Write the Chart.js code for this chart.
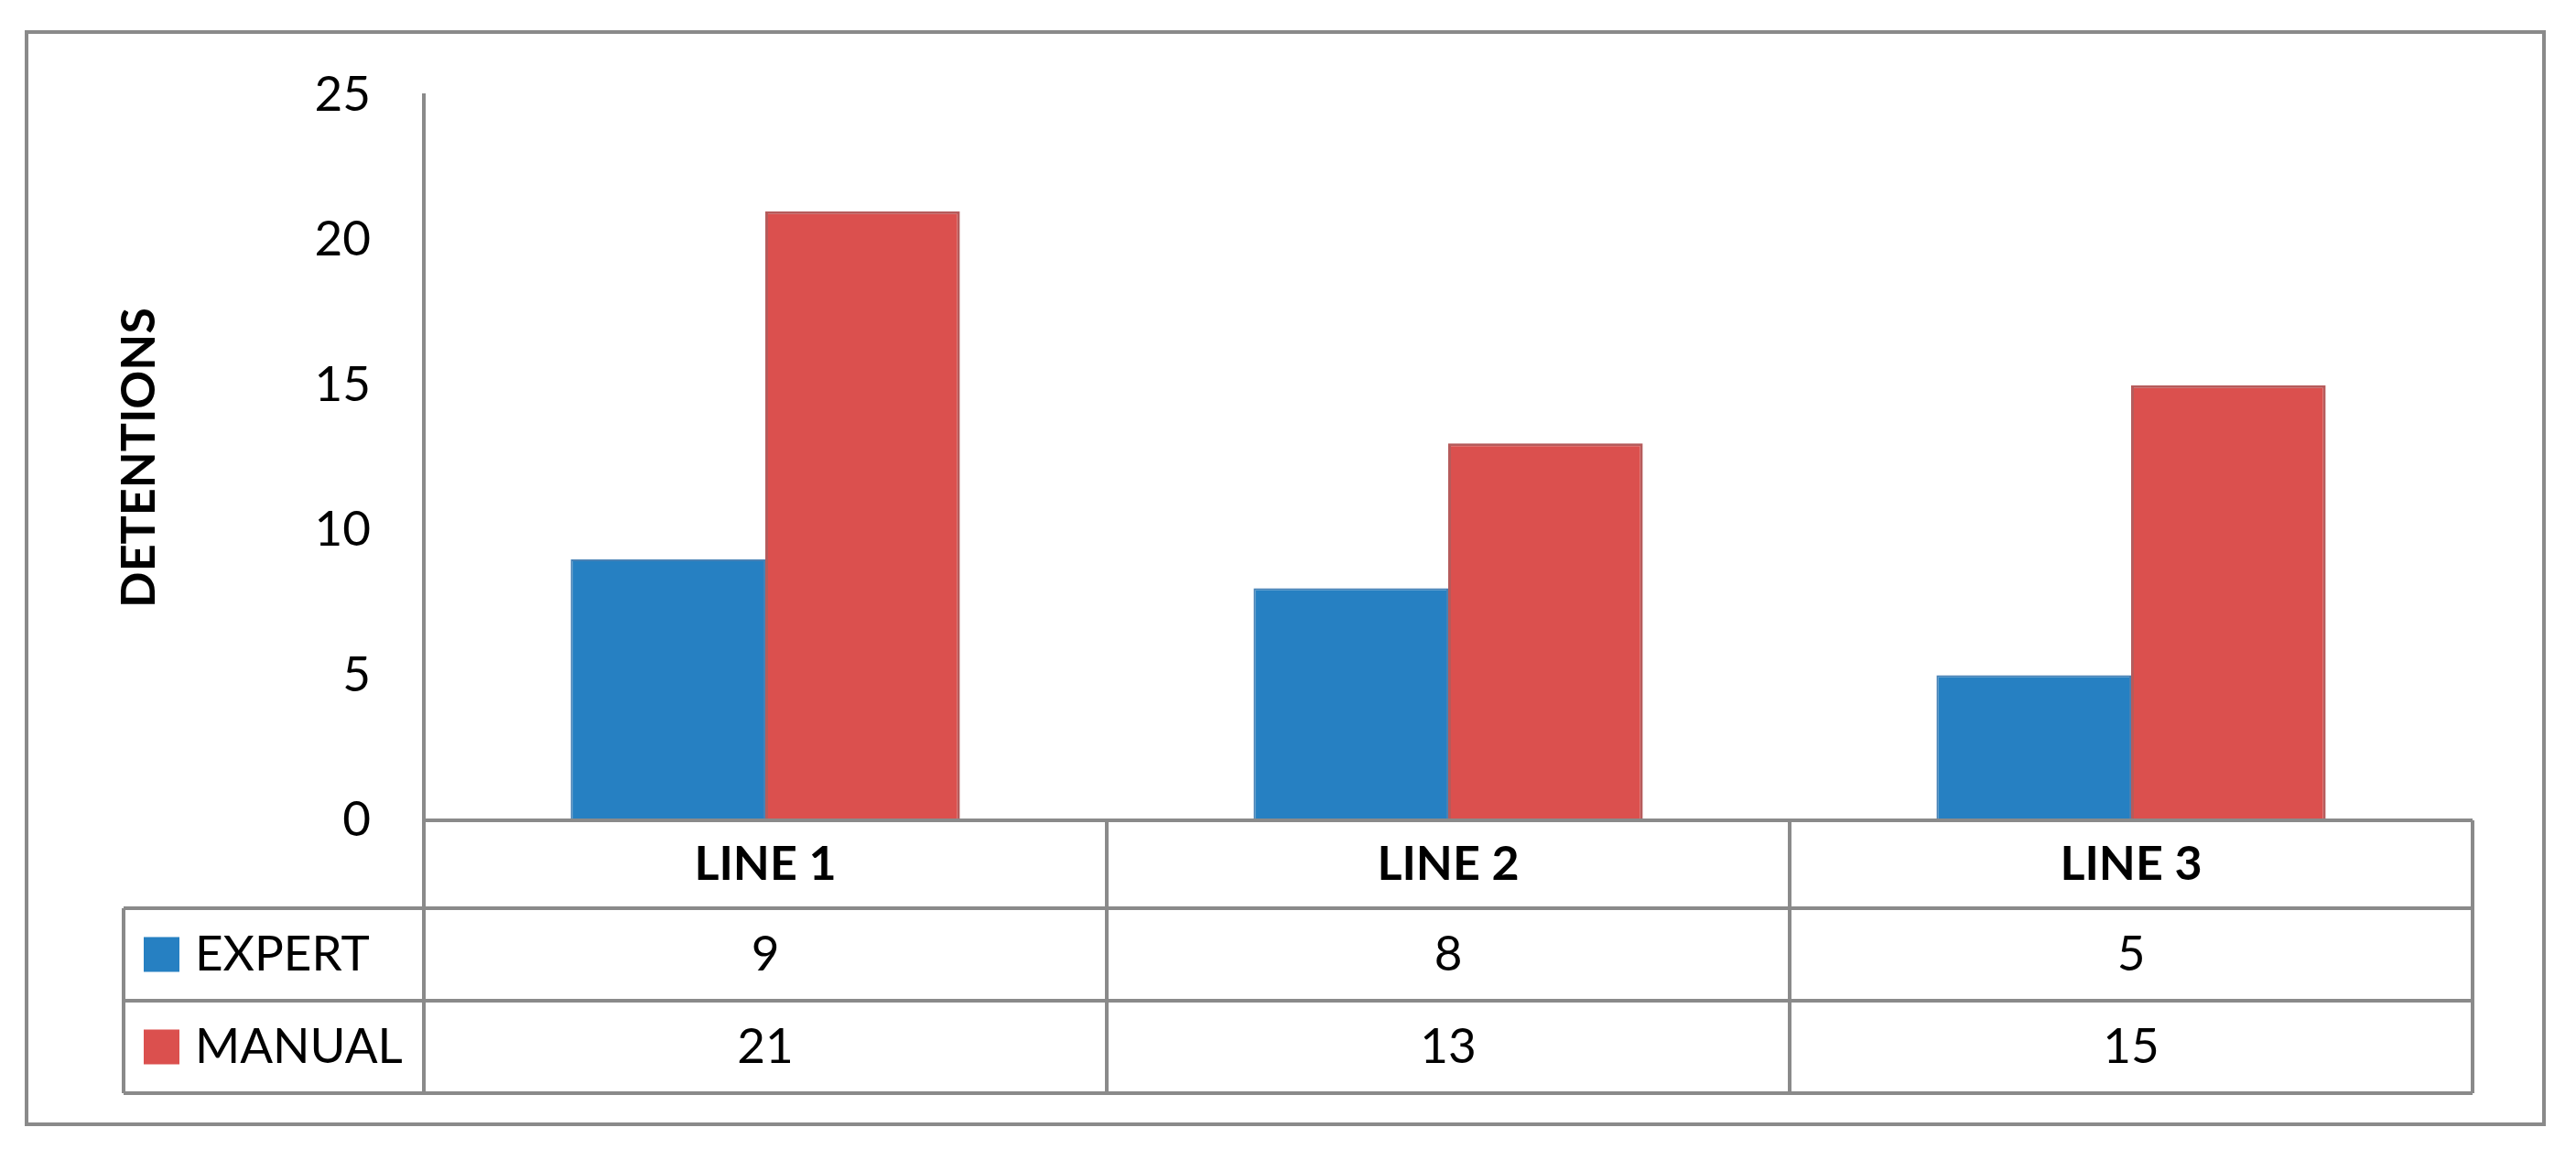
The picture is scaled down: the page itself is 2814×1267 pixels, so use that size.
<!DOCTYPE html>
<html lang="en">
<head>
    <meta charset="UTF-8">
    <title>Detentions by Line</title>
    <script src="https://cdn.jsdelivr.net/npm/chart.js"></script>
    <style>
        body {
            margin: 0;
            background: #ffffff;
            font-family: 'Lato', sans-serif;
        }

        /* Chart wrapper */
        .chart-wrap {
            position: relative;
            width: 2814px;
            height: 1267px;
        }

        /* Grey frame round the whole figure */
        .frame {
            position: absolute;
            left: 27px;
            top: 33px;
            width: 2754px;
            height: 1197px;
            box-sizing: border-box;
            border: 4px solid #8a8a8a;
            pointer-events: none;
        }
    </style>
</head>
<body>

    <div class="chart-wrap">
        <canvas id="barChart"></canvas>
        <div class="frame"></div>
    </div>

    <script>
// Chart data
const categories = ["LINE 1", "LINE 2", "LINE 3"];
const seriesNames = ["EXPERT", "MANUAL"];
const expertValues = [9, 8, 5];
const manualValues = [21, 13, 15];
const yTickStep = 5;
const yMax = 25;

const colors = ["#2680c2", "#db504e"];
const borders = ["#4781b5", "#b65b5b"];
const lineColor = "#8a8a8a";

// Data table under the plot (header row + one row per series)
const dataTable = {
    id: "dataTable",
    afterDatasetsDraw(chart) {
        const ctx = chart.ctx;
        const x = chart.scales.x;
        const area = chart.chartArea;
        const tableLeft = 135;
        const rowH = [96, 101, 101];
        const top = area.bottom;
        const rows = [top, top + rowH[0], top + rowH[0] + rowH[1], top + rowH[0] + rowH[1] + rowH[2]];
        const half = (x.getPixelForValue(1) - x.getPixelForValue(0)) / 2;
        const bounds = categories.map((c, i) => x.getPixelForValue(i) - half);
        bounds.push(x.getPixelForValue(categories.length - 1) + half);

        ctx.save();
        ctx.strokeStyle = lineColor;
        ctx.lineWidth = 4;
        ctx.beginPath();
        // horizontal lines
        ctx.moveTo(area.left, rows[0]); ctx.lineTo(area.right, rows[0]);
        for (let r = 1; r < rows.length; r++) {
            ctx.moveTo(tableLeft, rows[r]); ctx.lineTo(area.right, rows[r]);
        }
        // vertical lines
        ctx.moveTo(tableLeft, rows[1]); ctx.lineTo(tableLeft, rows[3]);
        bounds.forEach(b => { ctx.moveTo(b, rows[0]); ctx.lineTo(b, rows[3]); });
        ctx.stroke();

        // header labels
        ctx.fillStyle = "#000";
        ctx.textAlign = "center";
        ctx.textBaseline = "middle";
        ctx.font = "bold 52px Lato";
        categories.forEach((c, i) => ctx.fillText(c, x.getPixelForValue(i), (rows[0] + rows[1]) / 2));

        // series rows
        chart.data.datasets.forEach((ds, s) => {
            const cy = (rows[s + 1] + rows[s + 2]) / 2;
            ctx.fillStyle = ds.backgroundColor;
            ctx.fillRect(157, cy - 19, 39, 38);
            ctx.fillStyle = "#000";
            ctx.font = "53px Lato";
            ctx.textAlign = "left";
            ctx.fillText(ds.label, 213, cy);
            ctx.textAlign = "center";
            ds.data.forEach((v, i) => ctx.fillText(String(v), x.getPixelForValue(i), cy));
        });
        ctx.restore();
    }
};

const ctx1 = document.getElementById("barChart").getContext("2d");
new Chart(ctx1, {
    type: "bar",
    data: {
        labels: categories,
        datasets: [
            { label: seriesNames[0], data: expertValues, backgroundColor: colors[0], borderColor: borders[0], borderWidth: 2 },
            { label: seriesNames[1], data: manualValues, backgroundColor: colors[1], borderColor: borders[1], borderWidth: 3 }
        ]
    },
    options: {
        responsive: true,
        maintainAspectRatio: false,
        animation: false,
        layout: { padding: { left: 121, top: 104, right: 113, bottom: 371 } },
        datasets: { bar: { categoryPercentage: 0.57, barPercentage: 1 } },
        plugins: {
            legend: { display: false },
            tooltip: { enabled: false }
        },
        scales: {
            x: { display: false },
            y: {
                min: 0,
                max: yMax,
                afterFit(scale) { scale.width = 342; },
                ticks: { stepSize: yTickStep, padding: 58, color: "#000", font: { family: "Lato", size: 53 } },
                grid: { display: false, drawTicks: false },
                border: { display: true, color: lineColor, width: 4 },
                title: {
                    display: true,
                    text: "DETENTIONS",
                    color: "#000",
                    padding: 0,
                    font: { family: "Lato", size: 52, weight: "bold" }
                }
            }
        }
    },
    plugins: [dataTable]
});
    </script>

</body>
</html>
